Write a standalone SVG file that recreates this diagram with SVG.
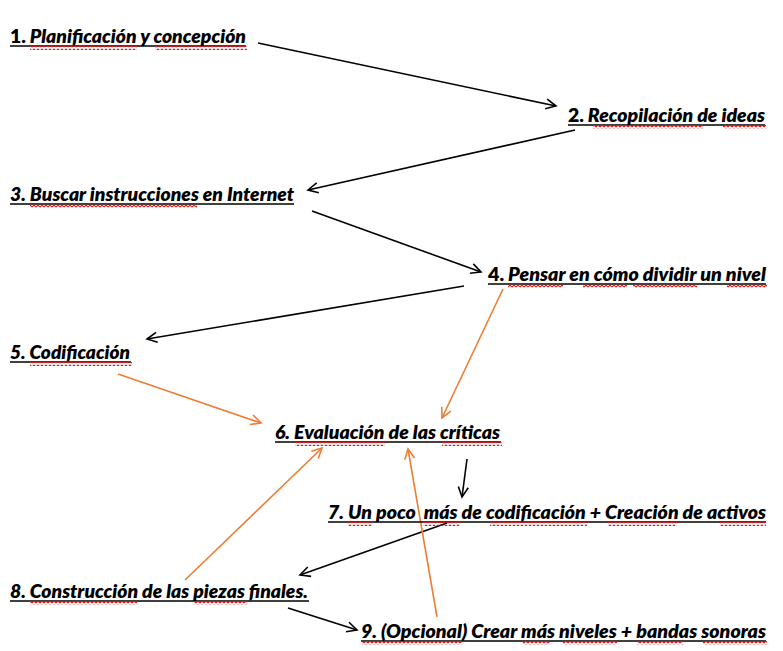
<svg xmlns="http://www.w3.org/2000/svg" width="783" height="651" viewBox="0 0 783 651">
<style>
.t{font-family:Lato,"Open Sans","Liberation Sans",sans-serif;font-size:18.5px;font-weight:800;font-style:italic;fill:#000}
.n{font-style:normal}
.u{stroke:#000;stroke-width:1.5}
.sq{fill:url(#wave)}
.k{stroke:#000;stroke-width:1.6;fill:none;marker-end:url(#ak)}
.o{stroke:#ED7D31;stroke-width:1.6;fill:none;marker-end:url(#ao)}
</style>
<defs>
<pattern id="wave" patternUnits="userSpaceOnUse" width="4" height="4">
<path d="M0,3 L2,1 L4,3" fill="none" stroke="#E01818" stroke-width="1.1"/>
</pattern>
<marker id="ak" markerUnits="userSpaceOnUse" markerWidth="14" markerHeight="14" refX="11" refY="6" orient="auto" viewBox="0 0 14 12">
<path d="M1,1 L11,6 L1,11" fill="none" stroke="#000" stroke-width="1.6"/>
</marker>
<marker id="ao" markerUnits="userSpaceOnUse" markerWidth="14" markerHeight="14" refX="11" refY="6" orient="auto" viewBox="0 0 14 12">
<path d="M1,1 L11,6 L1,11" fill="none" stroke="#ED7D31" stroke-width="1.6"/>
</marker>
</defs>
<rect width="783" height="651" fill="#fff"/>
<g id="connectors">
<line class="k" x1="258" y1="43" x2="556" y2="106"/>
<line class="k" x1="575" y1="130" x2="308" y2="190"/>
<line class="k" x1="312" y1="211" x2="481" y2="272"/>
<line class="k" x1="464" y1="286" x2="147" y2="339"/>
<line class="o" x1="118" y1="374" x2="261" y2="423"/>
<line class="o" x1="503" y1="289" x2="442" y2="418"/>
<line class="k" x1="467" y1="459" x2="462" y2="497"/>
<line class="k" x1="447" y1="523" x2="300" y2="575"/>
<line class="o" x1="185" y1="580" x2="322" y2="448"/>
<line class="o" x1="437" y1="617" x2="408" y2="449"/>
<line class="k" x1="288" y1="608" x2="357" y2="630"/>
</g>
<g id="n1">
<text class="t" x="10" y="43" textLength="236" lengthAdjust="spacingAndGlyphs"><tspan class="n">1.</tspan> Planificación y concepción</text>
<line class="u" x1="10" y1="46" x2="246" y2="46"/>
<rect class="sq" x="30" y="46" width="107" height="4"/>
<rect class="sq" x="155" y="46" width="92" height="4"/>
</g>
<g id="n2">
<text class="t" x="568" y="122" textLength="197" lengthAdjust="spacingAndGlyphs"><tspan class="n">2.</tspan> Recopilación de ideas</text>
<line class="u" x1="568" y1="125" x2="765" y2="125"/>
<rect class="sq" x="593" y="125" width="110" height="4"/>
<rect class="sq" x="723" y="125" width="43" height="4"/>
</g>
<g id="n3">
<text class="t" x="10" y="201" textLength="284" lengthAdjust="spacingAndGlyphs">3. Buscar instrucciones en Internet</text>
<line class="u" x1="10" y1="204" x2="294" y2="204"/>
<rect class="sq" x="30" y="204" width="167" height="4"/>
</g>
<g id="n4">
<text class="t" x="488" y="281" textLength="278" lengthAdjust="spacingAndGlyphs"><tspan class="n">4.</tspan> Pensar en cómo dividir un nivel</text>
<line class="u" x1="488" y1="284" x2="766" y2="284"/>
<rect class="sq" x="508" y="284" width="55" height="4"/>
<rect class="sq" x="583" y="284" width="44" height="4"/>
<rect class="sq" x="633" y="284" width="64" height="4"/>
<rect class="sq" x="727" y="284" width="40" height="4"/>
</g>
<g id="n5">
<text class="t" x="10" y="359" textLength="120" lengthAdjust="spacingAndGlyphs">5. Codificación</text>
<line class="u" x1="10" y1="362" x2="131" y2="362"/>
<rect class="sq" x="30" y="362" width="102" height="4"/>
</g>
<g id="n6">
<text class="t" x="275" y="439" textLength="225" lengthAdjust="spacingAndGlyphs">6. Evaluación de las críticas</text>
<line class="u" x1="275" y1="442" x2="501" y2="442"/>
<rect class="sq" x="295" y="442" width="90" height="4"/>
<rect class="sq" x="442" y="442" width="60" height="4"/>
</g>
<g id="n7">
<text class="t" x="328" y="519" textLength="438" lengthAdjust="spacingAndGlyphs">7. Un poco&#160; más de codificación + Creación de activos</text>
<line class="u" x1="328" y1="522" x2="766" y2="522"/>
<rect class="sq" x="348" y="522" width="24" height="4"/>
<rect class="sq" x="423" y="522" width="37" height="4"/>
<rect class="sq" x="490" y="522" width="97" height="4"/>
<rect class="sq" x="608" y="522" width="69" height="4"/>
<rect class="sq" x="720" y="522" width="46" height="4"/>
</g>
<g id="n8">
<text class="t" x="10" y="598" textLength="298" lengthAdjust="spacingAndGlyphs">8. Construcción de las piezas finales.</text>
<line class="u" x1="10" y1="601" x2="309" y2="601"/>
<rect class="sq" x="30" y="601" width="107" height="4"/>
<rect class="sq" x="194" y="601" width="53" height="4"/>
</g>
<g id="n9">
<text class="t" x="361" y="638" textLength="405" lengthAdjust="spacingAndGlyphs">9. (Opcional) Crear más niveles + bandas sonoras</text>
<line class="u" x1="361" y1="641" x2="766" y2="641"/>
<rect class="sq" x="362" y="641" width="100" height="4"/>
<rect class="sq" x="523" y="641" width="27" height="4"/>
<rect class="sq" x="563" y="641" width="54" height="4"/>
<rect class="sq" x="637" y="641" width="46" height="4"/>
<rect class="sq" x="703" y="641" width="64" height="4"/>
</g>
</svg>
